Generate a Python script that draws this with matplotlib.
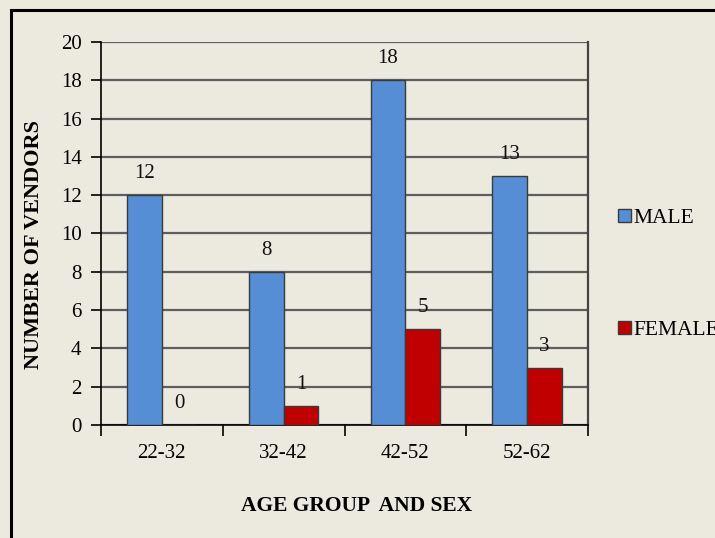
import matplotlib.pyplot as plt
import numpy as np
from matplotlib.patches import Rectangle

age_groups = ['22-32', '32-42', '42-52', '52-62']
male = [12, 8, 18, 13]
female = [0, 1, 5, 3]

bg = '#ECE9DF'
blue = '#558ED5'
red = '#C00000'

plt.rcParams['font.family'] = 'Liberation Serif'

fig = plt.figure(figsize=(7.15, 5.38), dpi=100, facecolor=bg)
ax = fig.add_axes([101/715, 1 - 425/538, 487/715, 383/538])
ax.set_facecolor(bg)

x = np.arange(len(age_groups))
w = 0.285
b1 = ax.bar(x - w/2, male, w, color=blue, edgecolor='#3a3a3a', linewidth=1, label='MALE', zorder=3)
b2 = ax.bar(x + w/2, female, w, color=red, edgecolor='#3a3a3a', linewidth=1, label='FEMALE', zorder=3)

for bars, vals in [(b1, male), (b2, female)]:
    for r, v in zip(bars, vals):
        ax.text(r.get_x() + r.get_width()/2, v + 0.62, str(v), ha='center', va='bottom',
                fontsize=15, color='#111111')

ax.set_xlim(-0.5, 3.5)
ax.set_ylim(0, 20)
ax.set_yticks(range(0, 21, 2))
ax.tick_params(axis='y', labelsize=15, length=7, width=1.2, direction='out', pad=7)
ax.set_xticks(x)
ax.set_xticklabels(age_groups, fontsize=15)
ax.tick_params(axis='x', length=0, pad=14)
# separator ticks between groups
ax.set_xticks(np.arange(-0.5, 4, 1), minor=True)
ax.tick_params(axis='x', which='minor', length=8, width=1.2, direction='out')

ax.yaxis.grid(True, color='#5e5e5e', linewidth=1.6, zorder=0)
ax.set_axisbelow(True)
ax.spines['top'].set_visible(False)
ax.spines['left'].set_linewidth(1.2)
ax.spines['bottom'].set_linewidth(1.2)
ax.spines['right'].set_linewidth(1.6)
ax.spines['right'].set_color('#444444')

ax.set_ylabel('NUMBER OF VENDORS', fontsize=16, fontweight='bold')
ax.yaxis.set_label_coords(-0.118, 0.47)
ax.set_xlabel('AGE GROUP  AND SEX', fontsize=15.5, fontweight='bold')
ax.xaxis.set_label_coords(0.525, -0.185)

leg = fig.legend(handles=[b1, b2], loc='upper left', bbox_to_anchor=(609/715, 1 - 200/538),
                 frameon=False, fontsize=15.5, handlelength=0.6, handleheight=0.6,
                 handletextpad=0.15, labelspacing=4.3, borderaxespad=0)

# outer chart frame, cut off at the right and bottom
fig.patches.append(Rectangle((11/715, -0.1), 1.1, 1 - 10/538 + 0.1, transform=fig.transFigure,
                             fill=False, edgecolor='black', linewidth=2.2))

fig.savefig('out.png', dpi=100, facecolor=bg)
